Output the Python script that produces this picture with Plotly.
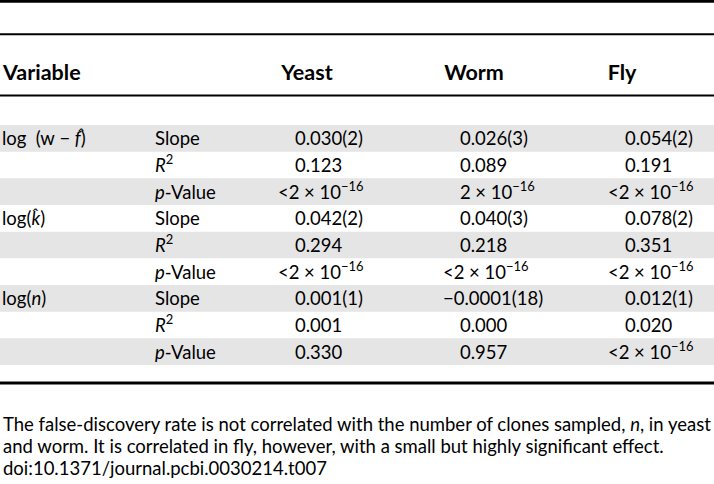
import plotly.graph_objects as go

# ---------------- data ----------------
species = ["Yeast", "Worm", "Fly"]
variables = ["log\u2002(w\u2005−\u2005<i>f̂</i>)", "log(<i>k̂</i>)", "log(<i>n</i>)"]
statistics = ["Slope", "<i>R</i><sup>2</sup>", "<i>p</i>-Value"]
yeast = ["0.030(2)", "0.123", "&lt;2\u2005×\u200510<sup>−16</sup>",
         "0.042(2)", "0.294", "&lt;2\u2005×\u200510<sup>−16</sup>",
         "0.001(1)", "0.001", "0.330"]
worm = ["0.026(3)", "0.089", "2\u2005×\u200510<sup>−16</sup>",
        "0.040(3)", "0.218", "&lt;2\u2005×\u200510<sup>−16</sup>",
        "−0.0001(18)", "0.000", "0.957"]
fly = ["0.054(2)", "0.191", "&lt;2\u2005×\u200510<sup>−16</sup>",
       "0.078(2)", "0.351", "&lt;2\u2005×\u200510<sup>−16</sup>",
       "0.012(1)", "0.020", "&lt;2\u2005×\u200510<sup>−16</sup>"]
footnote = [
    "The false-discovery rate is not correlated with the number of clones sampled, <i>n</i>, in yeast",
    "and worm. It is correlated in fly, however, with a small but highly significant effect.",
    "doi:10.1371/journal.pcbi.0030214.t007",
]

# ---------------- layout constants ----------------
W, H = 714, 484
FONT = "Lato"
FS = 18.5
FS_HEAD = 21.5
ROW_TOP, ROW_H = 125, 26.67
HEADER_Y = 74.5
VAR_X, STAT_X = 2, 155
COL_X = [295, 460, 625]          # digit start of each value column
HEAD_X = [307, 474, 622]         # centre of column headers
PREFIX_SHIFT = 17                # width of leading "<" or "−"
GRAY = "#e5e5e5"
FOOT_Y = [426.5, 448.5, 470.5]

n_rows = len(variables) * len(statistics)
row_c = [ROW_TOP + ROW_H * (i + 0.5) for i in range(n_rows)]
text_y = [c + 2.2 for c in row_c]

fig = go.Figure()
font = dict(family=FONT, size=FS, color="black")
hfont = dict(family=FONT, size=FS_HEAD, color="black")

# row shading
shapes = []
for i in range(n_rows):
    if i % 2 == 0:
        shapes.append(dict(type="rect", xref="x", yref="y", x0=0, x1=W,
                           y0=ROW_TOP + ROW_H * i, y1=ROW_TOP + ROW_H * (i + 1),
                           fillcolor=GRAY, line=dict(width=0), layer="below"))
# rules
for y, w in [(1.3, 2.7), (34.3, 2), (95.5, 2), (383, 3)]:
    shapes.append(dict(type="line", xref="x", yref="y", x0=0, x1=W, y0=y, y1=y,
                       line=dict(color="black", width=w)))

# header
fig.add_trace(go.Scatter(x=[3], y=[HEADER_Y], mode="text", text=["<b>Variable</b>"],
                         textposition="middle right", textfont=hfont, hoverinfo="skip"))
fig.add_trace(go.Scatter(x=HEAD_X, y=[HEADER_Y] * 3, mode="text",
                         text=[f"<b>{s}</b>" for s in species],
                         textposition="middle center", textfont=hfont, hoverinfo="skip"))

# variable labels
fig.add_trace(go.Scatter(x=[VAR_X] * len(variables),
                         y=[text_y[i * len(statistics)] for i in range(len(variables))],
                         mode="text", text=variables, textposition="middle right",
                         textfont=font, hoverinfo="skip"))
# statistic labels
fig.add_trace(go.Scatter(x=[STAT_X] * n_rows, y=text_y, mode="text",
                         text=statistics * len(variables), textposition="middle right",
                         textfont=font, hoverinfo="skip"))

# values
for vals, cx in zip([yeast, worm, fly], COL_X):
    xs = [cx - PREFIX_SHIFT if (v.startswith("&lt;") or v.startswith("−")) else cx for v in vals]
    fig.add_trace(go.Scatter(x=xs, y=text_y, mode="text", text=vals,
                             textposition="middle right", textfont=font, hoverinfo="skip"))

# footnote
fig.add_trace(go.Scatter(x=[3] * 3, y=FOOT_Y, mode="text", text=footnote,
                         textposition="middle right", textfont=font, hoverinfo="skip"))

fig.update_layout(
    width=W, height=H, margin=dict(l=0, r=0, t=0, b=0),
    paper_bgcolor="white", plot_bgcolor="white", showlegend=False,
    xaxis=dict(range=[0, W], visible=False, fixedrange=True),
    yaxis=dict(range=[H, 0], visible=False, fixedrange=True),
    shapes=shapes,
)
fig.write_html("out.html", config={"displayModeBar": False},
               post_script="document.body.style.margin='0';document.body.style.overflow='hidden';")
